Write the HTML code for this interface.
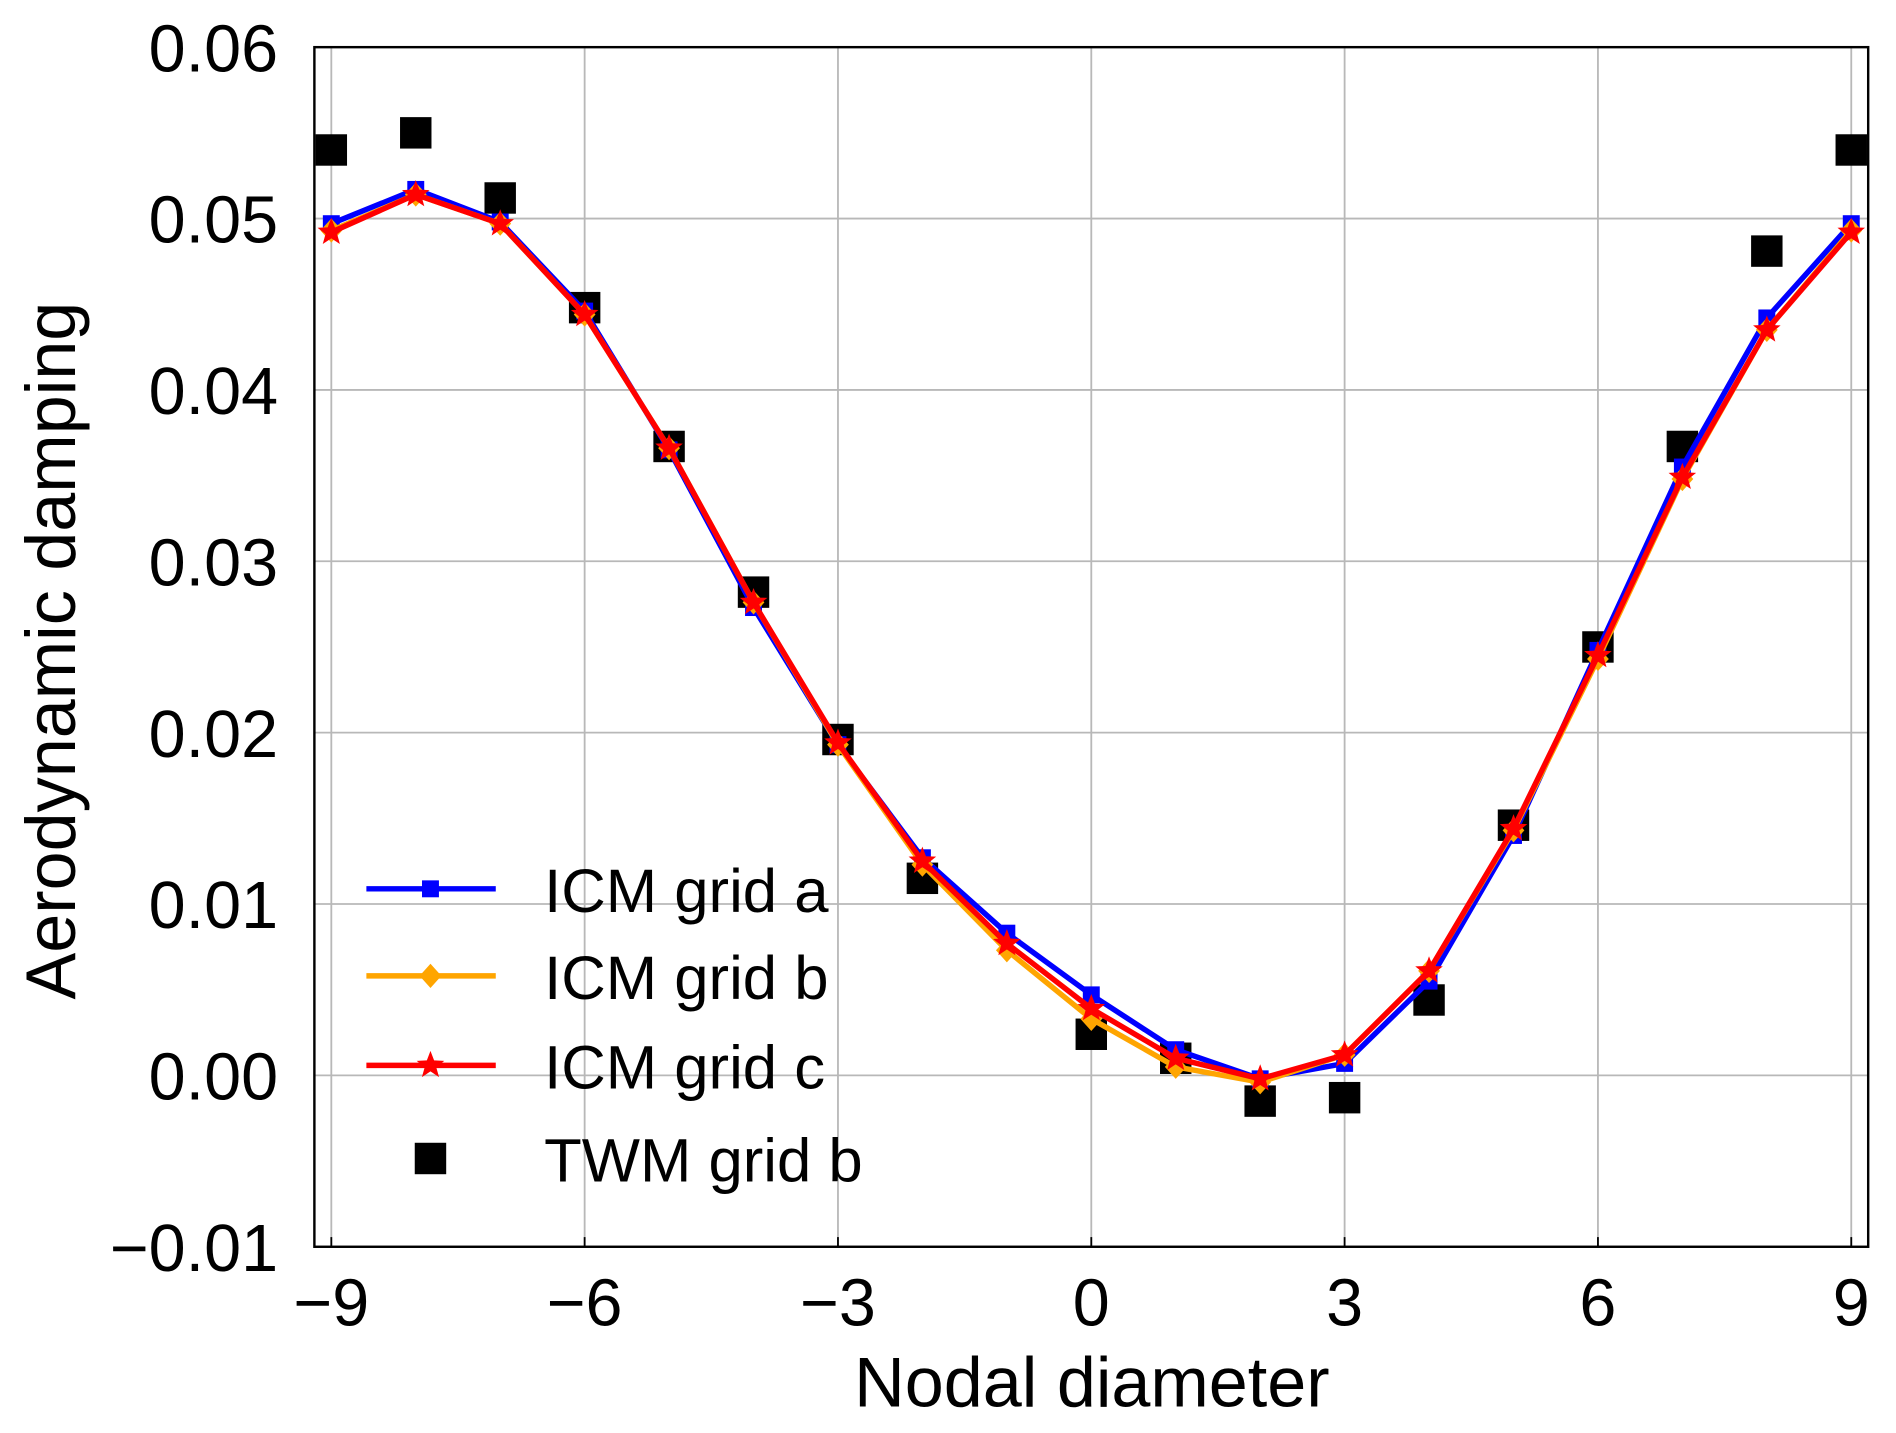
<!DOCTYPE html>
<html><head><meta charset="utf-8"><style>
html,body{margin:0;padding:0;background:#fff;}
svg{display:block;font-family:"Liberation Sans",Arial,sans-serif;}
</style></head><body>
<svg id="chart" width="1896" height="1433" viewBox="0 0 1568 1185" preserveAspectRatio="none" xmlns="http://www.w3.org/2000/svg">
<g id="grid"></g>
<g id="axes"></g>
<g id="series"></g>
<g id="legend"></g>
</svg>
<script>
const ndCategories = [-9,-8,-7,-6,-5,-4,-3,-2,-1,0,1,2,3,4,5,6,7,8,9];
const gridA = [0.0497,0.0517,0.0498,0.0446,0.0365,0.0273,0.0193,0.0127,0.0083,0.0047,0.0015,-0.0002,0.0007,0.0055,0.0140,0.0248,0.0355,0.0442,0.0497];
const gridB = [0.0493,0.0514,0.0497,0.0444,0.0366,0.0276,0.0193,0.0123,0.0073,0.0033,0.0005,-0.0004,0.0012,0.0061,0.0143,0.0243,0.0348,0.0435,0.0493];
const gridC = [0.0492,0.0514,0.0497,0.0444,0.0366,0.0276,0.0194,0.0125,0.0077,0.0039,0.0010,-0.0002,0.0012,0.0061,0.0144,0.0245,0.0349,0.0435,0.0492];
const twmB = [0.0540,0.0550,0.0512,0.0448,0.0367,0.0282,0.0196,0.0115,null,0.0024,0.0010,-0.0015,-0.0013,0.0044,0.0146,0.0250,0.0367,0.0481,0.0540];
const xTicks = [-9,-6,-3,0,3,6,9];
const xTickLabels = ["\u22129","\u22126","\u22123","0","3","6","9"];
const yTicks = [-0.01,0,0.01,0.02,0.03,0.04,0.05,0.06];
const yTickLabels = ["\u22120.01","0.00","0.01","0.02","0.03","0.04","0.05","0.06"];

const NS="http://www.w3.org/2000/svg";
const L=260,R=1545,T=39,B=1031;
const sx=v=>274+(v+9)*(1531-274)/18;
const sy=v=>T+(0.06-v)*(B-T)/0.07;
function mk(tag,attrs,parent){const e=document.createElementNS(NS,tag);for(const k in attrs)e.setAttribute(k,attrs[k]);parent.appendChild(e);return e;}
const grid=document.getElementById('grid'),axes=document.getElementById('axes'),series=document.getElementById('series'),legend=document.getElementById('legend');

xTicks.forEach((t,i)=>{
  const g=mk('line',{x1:sx(t),x2:sx(t),y1:T,y2:B,stroke:'#b8b8b8','stroke-width':1.5},grid);
  
  
  const tk=mk('line',{x1:sx(t),x2:sx(t),y1:B,y2:B-8,stroke:'#000','stroke-width':1.5},axes);
  
  
  const tx=mk('text',{x:sx(t),y:1096,'text-anchor':'middle','font-size':55},axes);
  tx.textContent=xTickLabels[i];
  
  
});
yTicks.forEach((t,i)=>{
  const g=mk('line',{x1:L,x2:R,y1:sy(t),y2:sy(t),stroke:'#b8b8b8','stroke-width':1.5},grid);
  
  
  const tx=mk('text',{x:230,y:sy(t)+20,'text-anchor':'end','font-size':55},axes);
  tx.textContent=yTickLabels[i];
  
  
});
const frame=mk('rect',{x:L,y:T,width:R-L,height:B-T,fill:'none',stroke:'#000','stroke-width':2},axes);


const xt=mk('text',{x:903,y:1163,'text-anchor':'middle','font-size':58},axes);
xt.textContent='Nodal diameter';


const yt=mk('text',{x:0,y:0,'text-anchor':'middle','font-size':58,transform:'translate(62,538) rotate(-90)'},axes);
yt.textContent='Aerodynamic damping';



function star(cx,cy,r){let p=[];for(let k=0;k<10;k++){const a=-Math.PI/2+k*Math.PI/5;const rr=k%2?r*0.42:r;p.push((cx+rr*Math.cos(a)).toFixed(1)+','+(cy+rr*Math.sin(a)).toFixed(1));}return p.join(' ');}
function marker(type,cx,cy,color,parent){
  if(type==='square') return mk('rect',{x:cx-7,y:cy-7,width:14,height:14,fill:color},parent);
  if(type==='diamond') return mk('polygon',{points:`${cx},${cy-10} ${cx+9},${cy} ${cx},${cy+10} ${cx-9},${cy}`,fill:color},parent);
  return mk('polygon',{points:star(cx,cy,12),fill:color},parent);
}
const lineSeries=[{d:gridA,c:'#0000ff',m:'square',n:'icm-grid-a'},{d:gridB,c:'#ffa500',m:'diamond',n:'icm-grid-b'},{d:gridC,c:'#ff0000',m:'star',n:'icm-grid-c'}];

const twmG=mk('g',{},series);


twmB.forEach((v,i)=>{ if(v===null)return;
  const r=mk('rect',{x:sx(ndCategories[i])-13,y:sy(v)-13,width:26,height:26,fill:'#000'},twmG);
  
  
});
lineSeries.forEach(s=>{
  const g=mk('g',{},series);
  
  
  const pl=mk('polyline',{points:s.d.map((v,i)=>sx(ndCategories[i])+','+sy(v)).join(' '),fill:'none',stroke:s.c,'stroke-width':4.5,'stroke-linejoin':'round'},g);
  
  
  s.d.forEach((v,i)=>{const m=marker(s.m,sx(ndCategories[i]),sy(v),s.c,g);
    
    });
});

const legItems=[{t:'ICM grid a',c:'#0000ff',m:'square',y:735},{t:'ICM grid b',c:'#ffa500',m:'diamond',y:807},{t:'ICM grid c',c:'#ff0000',m:'star',y:881},{t:'TWM grid b',c:'#000',m:'big',y:958}];
legItems.forEach(it=>{
  const g=mk('g',{},legend);
  
  
  if(it.m==='big'){mk('rect',{x:343,y:it.y-13,width:26,height:26,fill:'#000'},g);}
  else{mk('line',{x1:303,x2:410,y1:it.y,y2:it.y,stroke:it.c,'stroke-width':4.5},g);marker(it.m,356,it.y,it.c,g);}
  const tx=mk('text',{x:450,y:it.y+19,'font-size':51},g);
  tx.textContent=it.t;
});
</script>
</body></html>
